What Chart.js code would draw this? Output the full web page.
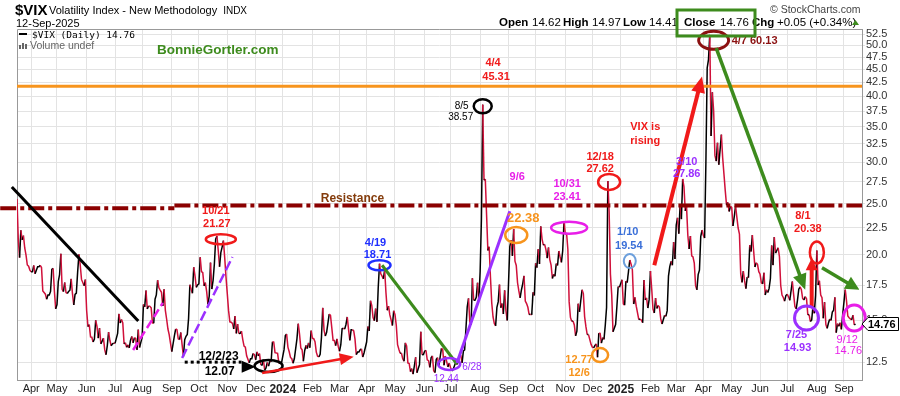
<!DOCTYPE html>
<html lang="en">
<head>
<meta charset="UTF-8">
<title>$VIX Volatility Index - Daily</title>
<script src="https://cdn.jsdelivr.net/npm/chart.js"></script>
<style>
  html, body { margin: 0; padding: 0; background: #fff; }
  canvas { display: block; }
</style>
</head>
<body>
<canvas id="vixChart" width="900" height="396"></canvas>
<script>
// daily closes (MM-DD / close), one pair of arrays per year
const days2023 = ['03-17','03-20','03-21','03-22','03-23','03-24','03-27','03-28','03-29','03-30','03-31',
  '04-03','04-04','04-05','04-06','04-10','04-11','04-12','04-13','04-14','04-17','04-18','04-19','04-20','04-21','04-24','04-25','04-26','04-27','04-28',
  '05-01','05-02','05-03','05-04','05-05','05-08','05-09','05-10','05-11','05-12','05-15','05-16','05-17','05-18','05-19','05-22','05-23','05-24','05-25','05-26','05-30','05-31',
  '06-01','06-02','06-05','06-06','06-07','06-08','06-09','06-12','06-13','06-14','06-15','06-16','06-20','06-21','06-22','06-23','06-26','06-27','06-28','06-29','06-30',
  '07-03','07-05','07-06','07-07','07-10','07-11','07-12','07-13','07-14','07-17','07-18','07-19','07-20','07-21','07-24','07-25','07-26','07-27','07-28','07-31',
  '08-01','08-02','08-03','08-04','08-07','08-08','08-09','08-10','08-11','08-14','08-15','08-16','08-17','08-18','08-21','08-22','08-23','08-24','08-25','08-28','08-29','08-30','08-31',
  '09-01','09-05','09-06','09-07','09-08','09-11','09-12','09-13','09-14','09-15','09-18','09-19','09-20','09-21','09-22','09-25','09-26','09-27','09-28','09-29',
  '10-02','10-03','10-04','10-05','10-06','10-09','10-10','10-11','10-12','10-13','10-16','10-17','10-18','10-19','10-20','10-23','10-24','10-25','10-26','10-27','10-30','10-31',
  '11-01','11-02','11-03','11-06','11-07','11-08','11-09','11-10','11-13','11-14','11-15','11-16','11-17','11-20','11-21','11-22','11-24','11-27','11-28','11-29','11-30',
  '12-01','12-04','12-05','12-06','12-07','12-08','12-11','12-12','12-13','12-14','12-15','12-18','12-19','12-20','12-21','12-22','12-26','12-27','12-28','12-29'];
const vix2023 = [25.51,21.38,19.75,22.26,21.34,21.74,20.60,19.97,19.12,19.02,18.70,
  18.55,18.58,19.08,18.40,18.97,18.97,19.09,18.91,17.07,16.95,16.83,16.46,16.77,16.77,17.03,18.76,18.84,17.03,15.78,
  16.08,17.78,18.34,20.09,17.19,17.01,17.71,16.94,16.88,17.03,17.12,17.99,16.87,16.05,16.81,16.91,18.53,20.03,19.14,17.95,17.46,17.94,
  15.65,14.60,14.73,13.96,13.94,13.65,13.83,15.01,14.61,13.88,14.50,13.54,13.88,13.20,12.91,13.44,14.25,13.74,13.43,13.54,13.59,
  13.57,14.18,15.44,14.83,15.07,14.84,13.54,13.61,13.34,13.48,13.30,13.76,13.99,13.60,13.91,13.86,13.19,14.41,13.33,13.63,
  13.93,16.09,15.92,17.10,15.77,15.99,15.96,15.85,14.84,14.82,16.46,16.78,17.89,17.30,17.13,16.97,15.98,17.20,15.68,15.08,14.45,14.09,13.57,
  13.09,14.02,14.45,14.40,13.84,13.80,14.23,13.48,12.82,13.79,14.00,14.11,15.14,17.54,17.20,16.90,18.94,18.22,17.34,17.52,
  17.61,19.78,18.58,18.49,17.45,17.70,17.03,16.09,16.69,19.32,17.21,17.88,19.22,21.40,21.71,20.37,18.97,20.19,20.68,21.27,19.75,18.14,
  16.87,15.66,14.91,14.89,14.81,14.45,15.29,14.17,14.76,14.16,14.18,14.32,13.80,13.41,13.35,12.85,12.46,12.69,12.69,12.98,12.92,
  12.63,13.08,12.85,12.97,12.35,12.35,12.63,12.07,12.19,12.48,12.28,12.56,12.53,13.67,13.65,13.03,12.99,12.43,12.47,12.45];

const days2024 = ['01-02','01-03','01-04','01-05','01-08','01-09','01-10','01-11','01-12','01-16','01-17','01-18','01-19','01-22','01-23','01-24','01-25','01-26','01-29','01-30','01-31',
  '02-01','02-02','02-05','02-06','02-07','02-08','02-09','02-12','02-13','02-14','02-15','02-16','02-20','02-21','02-22','02-23','02-26','02-27','02-28','02-29',
  '03-01','03-04','03-05','03-06','03-07','03-08','03-11','03-12','03-13','03-14','03-15','03-18','03-19','03-20','03-21','03-22','03-25','03-26','03-27','03-28',
  '04-01','04-02','04-03','04-04','04-05','04-08','04-09','04-10','04-11','04-12','04-15','04-16','04-17','04-18','04-19','04-22','04-23','04-24','04-25','04-26','04-29','04-30',
  '05-01','05-02','05-03','05-06','05-07','05-08','05-09','05-10','05-13','05-14','05-15','05-16','05-17','05-20','05-21','05-22','05-23','05-24','05-28','05-29','05-30','05-31',
  '06-03','06-04','06-05','06-06','06-07','06-10','06-11','06-12','06-13','06-14','06-17','06-18','06-20','06-21','06-24','06-25','06-26','06-27','06-28',
  '07-01','07-02','07-03','07-05','07-08','07-09','07-10','07-11','07-12','07-15','07-16','07-17','07-18','07-19','07-22','07-23','07-24','07-25','07-26','07-29','07-30','07-31',
  '08-01','08-02','08-05','08-06','08-07','08-08','08-09','08-12','08-13','08-14','08-15','08-16','08-19','08-20','08-21','08-22','08-23','08-26','08-27','08-28','08-29','08-30',
  '09-03','09-04','09-05','09-06','09-09','09-10','09-11','09-12','09-13','09-16','09-17','09-18','09-19','09-20','09-23','09-24','09-25','09-26','09-27','09-30',
  '10-01','10-02','10-03','10-04','10-07','10-08','10-09','10-10','10-11','10-14','10-15','10-16','10-17','10-18','10-21','10-22','10-23','10-24','10-25','10-28','10-29','10-30','10-31',
  '11-01','11-04','11-05','11-06','11-07','11-08','11-11','11-12','11-13','11-14','11-15','11-18','11-19','11-20','11-21','11-22','11-25','11-26','11-27','11-29',
  '12-02','12-03','12-04','12-05','12-06','12-09','12-10','12-11','12-12','12-13','12-16','12-17','12-18','12-19','12-20','12-23','12-24','12-26','12-27','12-30','12-31'];
const vix2024 = [13.20,14.04,14.13,13.35,13.08,12.76,12.69,12.44,12.70,13.84,14.79,14.13,13.30,13.19,12.55,13.14,13.45,13.26,13.60,13.31,14.35,
  13.88,13.85,13.67,13.06,12.83,12.79,12.93,13.93,15.85,14.38,14.01,14.24,15.42,15.34,14.54,13.75,13.74,13.43,13.84,13.40,
  13.11,13.49,14.46,14.50,14.44,14.74,15.23,14.43,13.75,14.40,14.41,14.33,13.82,12.92,13.06,13.06,13.19,13.24,12.78,13.01,
  13.65,14.61,14.33,16.35,16.03,15.19,14.98,15.80,14.91,17.31,19.23,18.40,18.21,18.00,18.71,16.94,15.69,15.97,15.37,15.03,14.67,15.65,
  15.39,14.68,13.49,13.23,13.00,13.00,12.69,12.55,13.60,13.42,12.45,12.42,11.99,12.15,11.86,12.29,12.77,11.93,12.36,14.28,12.91,12.92,
  13.11,13.16,12.63,12.58,12.22,12.74,12.85,12.04,11.94,12.66,12.75,12.30,13.28,13.20,12.33,12.84,12.55,12.24,12.44,
  12.22,12.03,12.09,12.48,12.37,12.51,12.85,12.89,12.46,13.12,13.19,14.48,15.93,16.52,14.91,14.72,18.04,16.39,16.39,16.60,17.69,16.36,
  18.59,23.39,38.57,27.71,27.85,23.79,20.37,20.71,18.12,16.19,15.23,14.80,14.65,15.88,16.27,17.55,15.86,16.15,15.43,17.11,15.65,15.00,
  20.72,21.32,19.90,22.38,19.45,19.08,17.69,17.07,16.56,17.14,17.61,18.23,16.33,16.15,15.89,15.39,15.41,15.37,16.96,16.73,
  19.26,18.90,20.49,19.21,22.64,21.42,20.86,20.93,20.46,19.70,20.64,19.58,19.11,18.03,18.37,18.20,19.24,19.08,20.33,19.80,19.34,20.35,23.16,
  21.88,21.98,20.49,16.27,15.20,14.94,14.97,14.71,14.02,14.31,16.14,15.58,16.35,17.16,16.87,15.24,14.60,14.10,14.10,13.51,
  13.34,13.30,13.45,13.54,12.77,14.19,14.18,13.58,13.92,13.81,14.69,15.87,27.62,24.09,18.36,16.78,14.27,14.73,15.95,17.40,17.35];

const days2025 = ['01-02','01-03','01-06','01-07','01-08','01-10','01-13','01-14','01-15','01-16','01-17','01-21','01-22','01-23','01-24','01-27','01-28','01-29','01-30','01-31',
  '02-03','02-04','02-05','02-06','02-07','02-10','02-11','02-12','02-13','02-14','02-18','02-19','02-20','02-21','02-24','02-25','02-26','02-27','02-28',
  '03-03','03-04','03-05','03-06','03-07','03-10','03-11','03-12','03-13','03-14','03-17','03-18','03-19','03-20','03-21','03-24','03-25','03-26','03-27','03-28','03-31',
  '04-01','04-02','04-03','04-04','04-07','04-08','04-09','04-10','04-11','04-14','04-15','04-16','04-17','04-21','04-22','04-23','04-24','04-25','04-28','04-29','04-30',
  '05-01','05-02','05-05','05-06','05-07','05-08','05-09','05-12','05-13','05-14','05-15','05-16','05-19','05-20','05-21','05-22','05-23','05-27','05-28','05-29','05-30',
  '06-02','06-03','06-04','06-05','06-06','06-09','06-10','06-11','06-12','06-13','06-16','06-17','06-18','06-20','06-23','06-24','06-25','06-26','06-27','06-30',
  '07-01','07-02','07-03','07-07','07-08','07-09','07-10','07-11','07-14','07-15','07-16','07-17','07-18','07-21','07-22','07-23','07-24','07-25','07-28','07-29','07-30','07-31',
  '08-01','08-04','08-05','08-06','08-07','08-08','08-11','08-12','08-13','08-14','08-15','08-18','08-19','08-20','08-21','08-22','08-25','08-26','08-27','08-28','08-29',
  '09-02','09-03','09-04','09-05','09-08','09-09','09-10','09-11','09-12'];
const vix2025 = [17.93,16.13,16.04,17.82,17.70,19.54,19.19,18.71,16.12,16.60,15.97,15.06,15.10,15.02,14.85,17.90,16.41,16.56,15.84,16.43,
  18.62,17.21,15.77,15.50,16.54,15.81,16.02,15.89,15.10,14.77,15.35,15.27,15.66,18.21,18.98,19.43,19.10,21.13,19.63,
  22.78,23.51,21.93,24.87,23.37,27.86,26.92,24.23,24.66,21.77,20.51,21.70,19.90,19.80,19.28,17.48,17.15,18.33,18.69,21.65,22.28,
  21.77,21.51,30.02,45.31,46.98,52.33,33.62,40.72,37.56,30.89,30.12,32.64,29.65,33.82,30.57,28.45,26.47,24.84,25.15,24.17,24.70,
  24.60,22.68,23.64,24.76,23.55,22.48,21.90,18.39,17.72,18.62,17.83,17.24,18.14,18.09,20.87,20.28,21.80,18.96,19.31,19.18,18.57,
  18.36,17.69,17.61,18.48,16.77,17.16,16.95,17.26,18.02,20.82,19.11,21.60,20.14,20.62,19.83,17.48,16.76,16.59,16.32,16.73,
  16.83,16.64,16.38,17.79,16.81,15.94,15.78,16.40,17.20,17.38,17.16,16.52,16.41,16.65,16.50,15.37,15.39,14.93,15.03,15.98,15.48,16.72,
  20.38,17.52,17.85,16.77,16.57,15.15,16.25,14.73,14.49,14.83,15.09,15.00,15.57,15.69,16.60,14.22,14.79,14.62,14.85,14.43,15.36,
  17.17,16.35,15.30,15.18,15.11,15.04,15.35,14.71,14.76];

// x axis: first weekday of each month and its label
const monthStarts = ['2023-04-03','2023-05-01','2023-06-01','2023-07-03','2023-08-01','2023-09-01','2023-10-02','2023-11-01','2023-12-01',
  '2024-01-01','2024-02-01','2024-03-01','2024-04-01','2024-05-01','2024-06-03','2024-07-01','2024-08-01','2024-09-02','2024-10-01','2024-11-01','2024-12-02',
  '2025-01-01','2025-02-03','2025-03-03','2025-04-01','2025-05-01','2025-06-02','2025-07-01','2025-08-01','2025-09-01'];
const monthLabels = ['Apr','May','Jun','Jul','Aug','Sep','Oct','Nov','Dec',
  '2024','Feb','Mar','Apr','May','Jun','Jul','Aug','Sep','Oct','Nov','Dec',
  '2025','Feb','Mar','Apr','May','Jun','Jul','Aug','Sep'];
const yTicks = [12.5,15,17.5,20,22.5,25,27.5,30,32.5,35,37.5,40,42.5,45,47.5,50,52.5];

const orangeLevel = 41.8;
const lastClose = 14.76;

// trading-day index (weekdays) counted from 2023-03-17
const START = Date.UTC(2023, 2, 17);
const DAY = 86400000;
function tday(iso) {
  const [y, m, d] = iso.split('-').map(Number);
  const t = Date.UTC(y, m - 1, d);
  let n = 0;
  if (t >= START) {
    for (let u = START + DAY; u <= t; u += DAY) { const w = new Date(u).getUTCDay(); if (w > 0 && w < 6) n++; }
  } else {
    for (let u = t; u < START; u += DAY) { const w = new Date(u).getUTCDay(); if (w > 0 && w < 6) n--; }
  }
  return n;
}

const series = [];
[['2023', days2023, vix2023], ['2024', days2024, vix2024], ['2025', days2025, vix2025]].forEach(([yr, ds, vs]) => {
  ds.forEach((d, i) => series.push({ x: tday(yr + '-' + d), y: vs[i] }));
});

const LINE_RED = '#d0103a';
const RED = '#f01a1a', MAG = '#e81ee8', PUR = '#9b30ff', ORG = '#f7941d', BLU = '#1f2fff',
      LBLU = '#6c9fdc', LBLU_T = '#3a6fd8', DRED = '#8b1111', GRN = '#3d8b1d', RES = '#8b0000';
const SANS = "'Liberation Sans', Arial, sans-serif";

// annotation layer: drawn in data space through the chart scales
const overlay = {
  id: 'overlay',
  beforeDatasetsDraw(chart) {
    const { ctx, chartArea: a } = chart;
    ctx.save();
    ctx.strokeStyle = '#999';
    ctx.lineWidth = 1;
    ctx.beginPath();
    ctx.moveTo(a.left + 0.5, a.bottom);
    ctx.lineTo(a.left + 0.5, a.top + 0.5);
    ctx.lineTo(a.right, a.top + 0.5);
    ctx.stroke();
    ctx.restore();
  },
  afterDatasetsDraw(chart) {
    const { ctx, chartArea: a } = chart;
    const xs = chart.scales.x, ys = chart.scales.y;
    const P = ([d, v]) => [xs.getPixelForValue(tday(d)), ys.getPixelForValue(v)];

    function seg(p, q, color, w, dash) {
      ctx.save();
      ctx.strokeStyle = color; ctx.lineWidth = w; ctx.setLineDash(dash || []);
      ctx.beginPath(); ctx.moveTo(p[0], p[1]); ctx.lineTo(q[0], q[1]); ctx.stroke();
      ctx.restore();
    }
    function line(a1, b1, color, w, dash) { seg(P(a1), P(b1), color, w, dash); }
    function arrow(a1, b1, color, w, hl, hw) {
      const p = P(a1), q = P(b1);
      const ang = Math.atan2(q[1] - p[1], q[0] - p[0]);
      const bx = q[0] - Math.cos(ang) * hl * 0.8, by = q[1] - Math.sin(ang) * hl * 0.8;
      seg(p, [bx, by], color, w);
      ctx.save();
      ctx.fillStyle = color;
      ctx.beginPath();
      ctx.moveTo(q[0], q[1]);
      ctx.lineTo(q[0] - Math.cos(ang) * hl - Math.sin(ang) * hw / 2, q[1] - Math.sin(ang) * hl + Math.cos(ang) * hw / 2);
      ctx.lineTo(q[0] - Math.cos(ang) * hl + Math.sin(ang) * hw / 2, q[1] - Math.sin(ang) * hl - Math.cos(ang) * hw / 2);
      ctx.closePath(); ctx.fill();
      ctx.restore();
    }
    function oval(c, rx, ry, color, w) {
      const p = P(c);
      ctx.save();
      ctx.strokeStyle = color; ctx.lineWidth = w;
      ctx.beginPath(); ctx.ellipse(p[0], p[1], rx, ry, 0, 0, Math.PI * 2); ctx.stroke();
      ctx.restore();
    }
    function label(c, dx, dy, text, color, font, align) {
      const p = P(c);
      ctx.save();
      ctx.fillStyle = color; ctx.font = font;
      ctx.textAlign = align || 'center'; ctx.textBaseline = 'middle';
      ctx.fillText(text, p[0] + dx, p[1] + dy);
      ctx.restore();
    }
    const B11 = 'bold 11px ' + SANS, B12 = 'bold 12px ' + SANS;

    // horizontal levels
    const yo = ys.getPixelForValue(orangeLevel);
    seg([a.left, yo], [a.right, yo], ORG, 3);
    line(['2023-02-28', 24.5], ['2023-09-05', 24.5], RES, 4, [16, 4, 4, 4]);
    seg(P(['2023-09-05', 24.8]), [a.right, ys.getPixelForValue(24.8)], RES, 4, [16, 4, 4, 4]);
    label(['2024-03-15', 24.8], 0, -7, 'Resistance', '#843c0c', B12);

    // 2023
    line(['2023-03-13', 26.9], ['2023-07-27', 14.96], '#000', 3);
    line(['2023-07-21', 13.18], ['2023-08-23', 16.2], MAG, 2.5, [9, 4]);
    line(['2023-09-13', 12.73], ['2023-11-07', 19.8], PUR, 2.5, [10, 4]);
    oval(['2023-10-25', 21.4], 15, 5, RED, 2.5);
    label(['2023-10-25', 21.4], -5, -28, '10/21', RED, B11);
    label(['2023-10-25', 21.4], -4, -15, '21.27', RED, B11);

    line(['2023-09-15', 12.5], ['2023-11-16', 12.5], '#000', 3, [3, 3]);
    arrow(['2023-11-24', 12.25], ['2023-12-01', 12.25], '#000', 1, 14, 12);
    label(['2023-12-01', 12.25], -37, -10, '12/2/23', '#000', B12);
    label(['2023-12-01', 12.25], -36, 5, '12.07', '#000', B12);
    oval(['2023-12-15', 12.29], 14, 6, '#000', 2.5);
    arrow(['2023-12-08', 11.92], ['2024-03-18', 12.8], RED, 2.5, 14, 12);

    // 2024
    oval(['2024-04-15', 19.1], 11, 5, BLU, 2.5);
    label(['2024-04-15', 19.1], -4, -22, '4/19', BLU, B11);
    label(['2024-04-15', 19.1], -2, -10, '18.71', BLU, B11);
    line(['2024-04-17', 19.1], ['2024-07-08', 12.4], GRN, 3);
    oval(['2024-06-28', 12.4], 11, 6, PUR, 2.5);
    label(['2024-06-28', 12.4], 13, 3, '6/28', PUR, '10px ' + SANS, 'left');
    label(['2024-06-28', 12.4], -3, 15, '12.44', PUR, '10px ' + SANS);
    line(['2024-07-08', 12.45], ['2024-09-03', 24.2], PUR, 3);
    oval(['2024-08-05', 38.3], 9, 7, '#000', 2.5);
    label(['2024-08-05', 38.3], -21, 0, '8/5', '#000', '10px ' + SANS);
    label(['2024-08-05', 38.3], -22, 11, '38.57', '#000', '10px ' + SANS);
    oval(['2024-09-10', 21.8], 11, 8, ORG, 2.5);
    label(['2024-09-10', 21.8], 1, -58, '9/6', MAG, B11);
    label(['2024-09-10', 21.8], 7, -17, '22.38', ORG, 'bold 13px ' + SANS);
    oval(['2024-11-06', 22.5], 18, 6, MAG, 2.5);
    label(['2024-11-06', 22.5], -2, -44, '10/31', MAG, B11);
    label(['2024-11-06', 22.5], -2, -31, '23.41', MAG, B11);
    oval(['2024-12-10', 12.89], 8, 7, ORG, 2.5);
    label(['2024-12-10', 12.89], -21, 5, '12.77', ORG, B11);
    label(['2024-12-10', 12.89], -21, 18, '12/6', ORG, B11);
    oval(['2024-12-19', 27.5], 11, 8, RED, 2.5);
    label(['2024-12-19', 27.5], -9, -25, '12/18', RED, B11);
    label(['2024-12-19', 27.5], -9, -13, '27.62', RED, B11);
    label(['2024-08-15', 46.3], 0, 0, '4/4', RED, B11);
    label(['2024-08-15', 46.3], 3, 14, '45.31', RED, B11);

    // 2025
    oval(['2025-01-10', 19.45], 6, 7, LBLU, 2);
    label(['2025-01-10', 19.45], -2, -29, '1/10', LBLU_T, B11);
    label(['2025-01-10', 19.45], -1, -15, '19.54', LBLU_T, B11);
    arrow(['2025-02-06', 19.1], ['2025-03-31', 43.6], RED, 4, 16, 14);
    label(['2025-01-28', 35.0], 0, 0, 'VIX is', RED, B11);
    label(['2025-01-28', 35.0], 0, 14, 'rising', RED, B11);
    label(['2025-03-10', 27.86], 4, -17, '3/10', PUR, B11);
    label(['2025-03-10', 27.86], 4, -5, '27.86', PUR, B11);
    oval(['2025-04-11', 51.1], 15, 9, DRED, 3);
    label(['2025-04-11', 51.1], 18, 1, '4/7 60.13', DRED, B11, 'left');
    arrow(['2025-04-15', 49.4], ['2025-07-21', 17.15], GRN, 3.5, 16, 14);
    oval(['2025-08-01', 20.2], 7, 11, RED, 2.5);
    label(['2025-08-01', 20.2], -14, -36, '8/1', RED, B11);
    label(['2025-08-01', 20.2], -9, -23, '20.38', RED, B11);
    arrow(['2025-07-28', 15.97], ['2025-07-28', 19.7], RED, 4, 12, 12);
    oval(['2025-07-22', 15.16], 12, 12, PUR, 3);
    label(['2025-07-22', 15.16], -10, 17, '7/25', PUR, B11);
    label(['2025-07-22', 15.16], -9, 30, '14.93', PUR, B11);
    arrow(['2025-08-07', 18.9], ['2025-09-17', 17.15], GRN, 3.5, 14, 14);
    oval(['2025-09-11', 15.16], 11, 13, MAG, 3);
    label(['2025-09-11', 15.16], -7, 22, '9/12', MAG, '11px ' + SANS);
    label(['2025-09-11', 15.16], -6, 33, '14.76', MAG, '11px ' + SANS);
  },
  afterDraw(chart) {
    const { ctx, chartArea: a } = chart;
    const ys = chart.scales.y;
    ctx.save();
    ctx.textBaseline = 'alphabetic';
    ctx.textAlign = 'left';

    // title block
    ctx.fillStyle = '#000';
    ctx.font = 'bold 15px ' + SANS;
    ctx.fillText('$VIX', 15, 15);
    ctx.font = '11px ' + SANS;
    const sub = 'Volatility Index - New Methodology';
    ctx.fillText(sub, 49, 14);
    const subEnd = 49 + ctx.measureText(sub).width;
    ctx.font = '10px ' + SANS;
    ctx.fillText('INDX', subEnd + 6, 14);
    ctx.font = '11px ' + SANS;
    ctx.fillText('12-Sep-2025', 16, 27);

    ctx.fillStyle = '#444';
    ctx.font = '10.5px ' + SANS;
    ctx.fillText('\u00A9 StockCharts.com', 770, 13);

    const quote = [['Open', 499, 1], ['14.62', 532, 0], ['High', 563, 1], ['14.97', 592, 0], ['Low', 623, 1], ['14.41', 649, 0],
                   ['Close', 684, 1], ['14.76', 720, 0], ['Chg', 752, 1], ['+0.05 (+0.34%)', 777, 0]];
    ctx.fillStyle = '#000';
    quote.forEach(([s, x, b]) => {
      ctx.font = (b ? 'bold ' : '') + '11.5px ' + SANS;
      ctx.fillText(s, x, 26);
    });
    ctx.fillStyle = GRN;
    ctx.beginPath(); ctx.moveTo(852, 25); ctx.lineTo(859, 25); ctx.lineTo(855.5, 20); ctx.closePath(); ctx.fill();
    ctx.strokeStyle = GRN; ctx.lineWidth = 3;
    ctx.strokeRect(677, 10, 78, 26);

    // legend inside plot
    ctx.fillStyle = '#000';
    ctx.fillRect(19, 33, 8, 2);
    ctx.font = "9.5px 'DejaVu Sans Mono', monospace";
    ctx.fillText('$VIX (Daily) 14.76', 32, 38);
    ctx.fillStyle = '#666';
    [[19, 45, 4], [22, 43, 6], [25, 44, 5]].forEach(([x, y, h]) => ctx.fillRect(x, y, 2, h));
    ctx.font = '10.5px ' + SANS;
    ctx.fillText('Volume undef', 30, 49);

    ctx.fillStyle = GRN;
    ctx.font = 'bold 13.5px ' + SANS;
    ctx.fillText('BonnieGortler.com', 157, 54);

    // last-price tag on the right axis
    const ty = Math.round(ys.getPixelForValue(lastClose));
    ctx.fillStyle = '#fff'; ctx.strokeStyle = '#000'; ctx.lineWidth = 1;
    ctx.beginPath();
    ctx.moveTo(a.right, ty);
    ctx.lineTo(a.right + 6, ty - 6.5);
    ctx.lineTo(898.5, ty - 6.5);
    ctx.lineTo(898.5, ty + 6.5);
    ctx.lineTo(a.right + 6, ty + 6.5);
    ctx.closePath(); ctx.fill(); ctx.stroke();
    ctx.fillStyle = '#000';
    ctx.font = 'bold 11px ' + SANS;
    ctx.textBaseline = 'middle';
    ctx.fillText(lastClose.toFixed(2), a.right + 6, ty + 0.5);
    ctx.restore();
  }
};

Chart.defaults.font.family = SANS;
Chart.defaults.font.size = 11;

new Chart(document.getElementById('vixChart').getContext('2d'), {
  type: 'line',
  data: {
    datasets: [{
      label: '$VIX (Daily)',
      data: series,
      borderColor: LINE_RED,
      borderWidth: 1.5,
      pointRadius: 0,
      tension: 0,
      segment: { borderColor: c => (c.p1.parsed.y >= c.p0.parsed.y ? '#000' : LINE_RED) }
    }]
  },
  options: {
    responsive: false,
    animation: false,
    devicePixelRatio: 1,
    layout: { padding: { left: 17, top: 29, right: 0, bottom: 0 } },
    plugins: { legend: { display: false }, tooltip: { enabled: false } },
    scales: {
      x: {
        type: 'linear',
        min: 0,
        max: 655,
        bounds: 'data',
        afterBuildTicks: s => { s.ticks = monthStarts.map(d => ({ value: tday(d) })); },
        afterFit: s => { s.height = 16; },
        grid: { color: '#e3e3e3', tickLength: 2 },
        border: { color: '#999' },
        ticks: {
          autoSkip: false,
          maxRotation: 0,
          padding: 0,
          color: '#222',
          callback: (v, i) => monthLabels[i],
          font: c => (/^\d{4}$/.test(monthLabels[c.index]) ? { size: 12, weight: 'bold' } : { size: 11 })
        }
      },
      y: {
        type: 'logarithmic',
        position: 'right',
        min: 11.56,
        max: 53.7,
        bounds: 'data',
        afterBuildTicks: s => { s.ticks = yTicks.map(v => ({ value: v })); },
        afterFit: s => { s.width = 38; },
        grid: { color: '#e3e3e3', tickLength: 3 },
        border: { color: '#999' },
        ticks: { padding: 1, color: '#333', callback: v => Number(v).toFixed(1) }
      }
    }
  },
  plugins: [overlay]
});
</script>
</body>
</html>
